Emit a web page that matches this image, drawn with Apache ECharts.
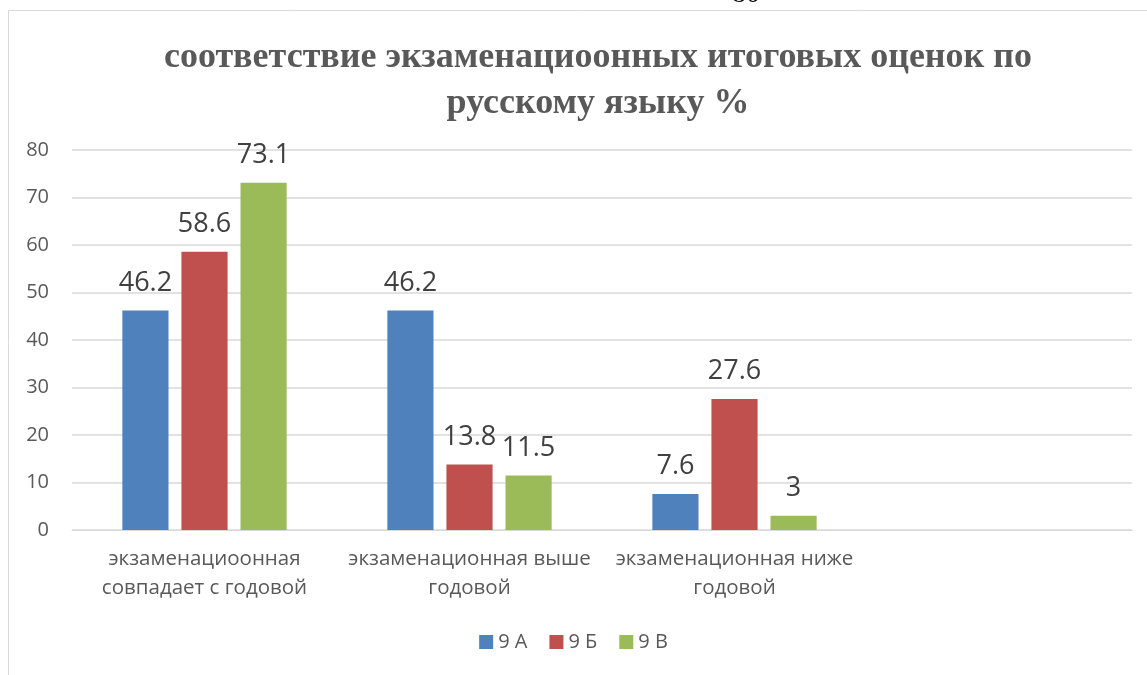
<!DOCTYPE html>
<html><head><meta charset="utf-8">
<script src="https://cdn.jsdelivr.net/npm/echarts@6/dist/echarts.min.js"></script>
<style>html,body{margin:0;padding:0;background:#fff}#c{width:1147px;height:675px}</style>
</head><body><div id="c"></div>
<script>
const categories = ['экзаменациоонная\nсовпадает с годовой', 'экзаменационная выше\nгодовой', 'экзаменационная ниже\nгодовой', ''];
const seriesNames = ['9 А', '9 Б', '9 В'];
const valuesA = [46.2, 46.2, 7.6, null];
const valuesB = [58.6, 13.8, 27.6, null];
const valuesV = [73.1, 11.5, 3, null];
const yTicks = {min: 0, max: 80, interval: 10};
const colors = ['#4F81BD', '#C0504D', '#9BBB59'];
const font = '"Open Sans", "Noto Sans", sans-serif';

const chart = echarts.init(document.getElementById('c'));
const mk = (name, data, color) => ({
  name, type: 'bar', data, barGap: '28%', barCategoryGap: '38%',
  itemStyle: {color},
  label: {show: true, position: 'top', distance: 14, fontSize: 27, color: '#404040', fontFamily: font}
});
chart.setOption({
  animation: false,
  title: {
    text: 'соответствие экзаменациоонных итоговых оценок по\nрусскому языку %',
    left: 593, textAlign: 'center', top: 30,
    textStyle: {fontFamily: '"Liberation Serif", serif', fontWeight: 'bold', fontSize: 36, color: '#595959', lineHeight: 46}
  },
  legend: {
    data: seriesNames, bottom: 18, left: 'center', itemWidth: 14, itemHeight: 14, itemGap: 22,
    icon: 'rect', textStyle: {fontSize: 20, color: '#595959', fontFamily: font}
  },
  grid: {left: 72, right: 15, top: 150, bottom: 145},
  xAxis: {
    type: 'category', data: categories,
    axisLine: {lineStyle: {color: '#d9d9d9', width: 1}}, axisTick: {show: false},
    axisLabel: {fontSize: 20.5, color: '#595959', fontFamily: font, lineHeight: 29, margin: 15, interval: 0}
  },
  yAxis: {
    type: 'value', min: yTicks.min, max: yTicks.max, interval: yTicks.interval,
    axisLine: {show: false}, axisTick: {show: false},
    splitLine: {lineStyle: {color: '#d9d9d9', width: 1.5}},
    axisLabel: {fontSize: 20, color: '#595959', fontFamily: font, margin: 23}
  },
  graphic: [
    {type: 'line', shape: {x1: 8, y1: 10.5, x2: 1147, y2: 10.5}, style: {stroke: '#d9d9d9', lineWidth: 1}},
    {type: 'line', shape: {x1: 8.5, y1: 10, x2: 8.5, y2: 675}, style: {stroke: '#d9d9d9', lineWidth: 1}},
    {type: 'text', left: 732, top: -19, style: {text: '80', fontSize: 28, fontFamily: '"Liberation Serif", serif', fill: '#000'}}
  ],
  series: [mk(seriesNames[0], valuesA, colors[0]), mk(seriesNames[1], valuesB, colors[1]), mk(seriesNames[2], valuesV, colors[2])]
});
</script></body></html>
